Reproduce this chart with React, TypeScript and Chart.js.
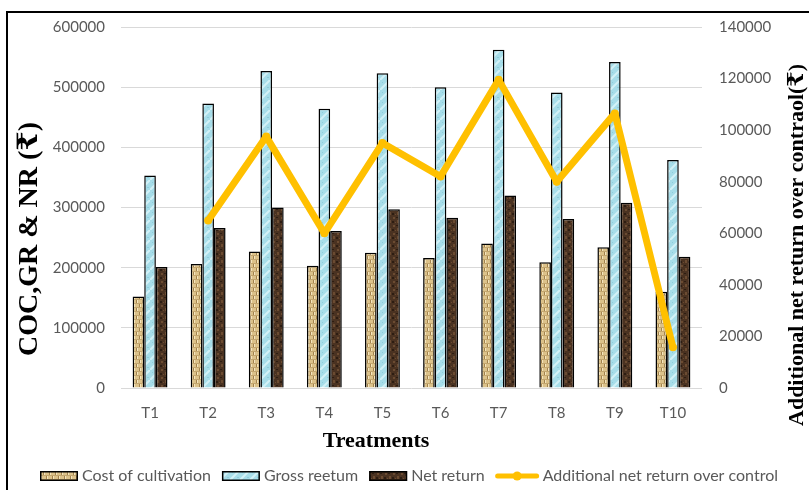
import React, { useEffect, useRef } from "react";
import { Chart, registerables } from "chart.js";

Chart.register(...registerables);

const treatments = ["T1", "T2", "T3", "T4", "T5", "T6", "T7", "T8", "T9", "T10"];
const costOfCultivation = [152000, 206000, 227000, 203000, 225000, 216000, 240000, 209000, 234000, 160000];
const grossReturn = [353000, 473000, 527000, 464000, 523000, 500000, 562000, 491000, 542000, 379000];
const netReturn = [201000, 266000, 300000, 261000, 297000, 283000, 320000, 281000, 308000, 218000];
const additionalNetReturn = [null, 65000, 97500, 60000, 95000, 82000, 119500, 80000, 106500, 15800];

const seriesLabels = ["Cost of cultivation", "Gross reetum", "Net return", "Additional net return over control"];
const leftTitle = "COC,GR & NR (₹)";
const rightTitle = "Additional net return over contraol(₹)";
const xTitle = "Treatments";

const TICK_FONT = "Lato, 'Liberation Sans', sans-serif";
const TITLE_FONT = "'Liberation Serif', 'DejaVu Serif', serif";
const GREY = "#595959";
const LINE_COLOR = "#FFC000";

function makeTile(kind: string): HTMLCanvasElement {
  const c = document.createElement("canvas");
  const g = c.getContext("2d")!;
  if (kind === "coc") {
    c.width = 6; c.height = 8;
    g.fillStyle = "#DCC28A"; g.fillRect(0, 0, 6, 8);
    g.fillStyle = "#A3834E"; g.fillRect(1, 0, 1, 3); g.fillRect(4, 4, 1, 3);
    g.fillStyle = "#F4E5BD"; g.fillRect(2, 0, 1, 3); g.fillRect(5, 4, 1, 3);
    g.fillStyle = "#C3A66E"; g.fillRect(0, 3, 6, 1); g.fillRect(0, 7, 6, 1);
  } else if (kind === "gr") {
    c.width = 10; c.height = 10;
    g.fillStyle = "#A7DDE9"; g.fillRect(0, 0, 10, 10);
    g.strokeStyle = "#D3F1F6"; g.lineWidth = 2;
    g.beginPath(); g.moveTo(0, 10); g.lineTo(10, 0); g.stroke();
    g.fillStyle = "#8FCCDA"; g.fillRect(2, 2, 1, 1); g.fillRect(7, 7, 2, 1);
  } else {
    c.width = 8; c.height = 8;
    g.fillStyle = "#4A3221"; g.fillRect(0, 0, 8, 8);
    g.fillStyle = "#6B4B31"; g.fillRect(1, 1, 2, 2); g.fillRect(5, 4, 2, 3); g.fillRect(3, 6, 1, 1);
    g.fillStyle = "#2D1D12"; g.fillRect(4, 1, 2, 1); g.fillRect(0, 5, 2, 2);
  }
  return c;
}

export default function App() {
  const ref = useRef<HTMLCanvasElement | null>(null);

  useEffect(() => {
    const canvas = ref.current!;
    const ctx0 = canvas.getContext("2d")!;
    const pats = {
      coc: ctx0.createPattern(makeTile("coc"), "repeat")!,
      gr: ctx0.createPattern(makeTile("gr"), "repeat")!,
      nr: ctx0.createPattern(makeTile("nr"), "repeat")!,
    };

    const decor = {
      id: "decor",
      beforeDraw(chart: any) {
        const ctx = chart.ctx;
        ctx.save();
        ctx.strokeStyle = "#000";
        ctx.lineWidth = 2;
        ctx.beginPath();
        ctx.moveTo(7, 490);
        ctx.lineTo(7, 12);
        ctx.lineTo(809, 12);
        ctx.stroke();
        ctx.restore();
      },
      afterDraw(chart: any) {
        const ctx = chart.ctx;
        ctx.save();
        ctx.fillStyle = "#000";
        ctx.textAlign = "center";
        ctx.textBaseline = "middle";
        // left title
        ctx.font = `bold 28px ${TITLE_FONT}`;
        ctx.save();
        ctx.translate(30, 239);
        ctx.rotate(-Math.PI / 2);
        ctx.fillText(leftTitle, 0, 0);
        ctx.restore();
        // right title
        ctx.font = `bold 22px ${TITLE_FONT}`;
        ctx.save();
        ctx.translate(797, 245);
        ctx.rotate(-Math.PI / 2);
        ctx.fillText(rightTitle, 0, 0);
        ctx.restore();
        // x title
        ctx.font = `bold 22px ${TITLE_FONT}`;
        ctx.fillText(xTitle, 376, 441);

        // legend
        ctx.font = `16px ${TICK_FONT}`;
        const sw = [38, 38, 38, 43];
        const gapIn = 4, gapOut = 11;
        const widths = seriesLabels.map((t) => ctx.measureText(t).width);
        let total = 0;
        widths.forEach((w, i) => { total += sw[i] + gapIn + w + (i < 3 ? gapOut : 0); });
        let x = Math.round(409 - total / 2);
        const y = 476;
        const fills = [pats.coc, pats.gr, pats.nr];
        for (let i = 0; i < 4; i++) {
          if (i < 3) {
            ctx.fillStyle = fills[i];
            ctx.fillRect(x, y - 5, sw[i], 10);
            ctx.strokeStyle = "#000";
            ctx.lineWidth = 1.5;
            ctx.strokeRect(x + 0.75, y - 5 + 0.75, sw[i] - 1.5, 10 - 1.5);
          } else {
            ctx.strokeStyle = LINE_COLOR;
            ctx.lineWidth = 5;
            ctx.lineCap = "round";
            ctx.beginPath();
            ctx.moveTo(x + 2, y);
            ctx.lineTo(x + sw[i] - 2, y);
            ctx.stroke();
            ctx.fillStyle = LINE_COLOR;
            ctx.beginPath();
            ctx.arc(x + sw[i] / 2, y, 4.5, 0, Math.PI * 2);
            ctx.fill();
          }
          x += sw[i] + gapIn;
          ctx.fillStyle = GREY;
          ctx.textAlign = "left";
          ctx.fillText(seriesLabels[i], x, y);
          x += widths[i] + gapOut;
        }
        ctx.restore();
      },
    };

    const chart = new Chart(canvas, {
      type: "bar",
      data: {
        labels: treatments,
        datasets: [
          {
            type: "line",
            label: seriesLabels[3],
            data: additionalNetReturn as any,
            yAxisID: "y1",
            borderColor: LINE_COLOR,
            backgroundColor: LINE_COLOR,
            borderWidth: 7,
            borderJoinStyle: "round",
            borderCapStyle: "round",
            pointRadius: 4,
            pointBorderWidth: 0,
            pointBackgroundColor: LINE_COLOR,
            spanGaps: false,
            tension: 0,
            order: 0,
          } as any,
          {
            label: seriesLabels[0],
            data: costOfCultivation,
            yAxisID: "y",
            backgroundColor: pats.coc,
            borderColor: "#000",
            borderWidth: 1.5,
            order: 1,
          },
          {
            label: seriesLabels[1],
            data: grossReturn,
            yAxisID: "y",
            backgroundColor: pats.gr,
            borderColor: "#000",
            borderWidth: 1.5,
            order: 1,
          },
          {
            label: seriesLabels[2],
            data: netReturn,
            yAxisID: "y",
            backgroundColor: pats.nr,
            borderColor: "#000",
            borderWidth: 1.5,
            order: 1,
          },
        ],
      },
      options: {
        animation: false,
        responsive: false,
        maintainAspectRatio: false,
        layout: { padding: { top: 27, left: 0, right: 0, bottom: 0 } },
        datasets: { bar: { categoryPercentage: 0.6, barPercentage: 1.0 } },
        plugins: { legend: { display: false }, tooltip: { enabled: false } },
        scales: {
          x: {
            grid: { display: false },
            border: { display: false },
            ticks: { color: GREY, font: { family: TICK_FONT, size: 15 }, padding: 8 },
            afterFit: (s: any) => { s.height = 102; },
          },
          y: {
            position: "left",
            min: 0,
            max: 600000,
            grid: { color: "#D9D9D9", lineWidth: 1, drawTicks: false },
            border: { display: false },
            ticks: {
              stepSize: 100000,
              color: GREY,
              font: { family: TICK_FONT, size: 15 },
              padding: 16,
              callback: (v: any) => String(v),
            },
            afterFit: (s: any) => { s.width = 121; },
          },
          y1: {
            position: "right",
            min: 0,
            max: 140000,
            grid: { display: false, drawTicks: false },
            border: { display: false },
            ticks: {
              stepSize: 20000,
              color: GREY,
              font: { family: TICK_FONT, size: 15 },
              padding: 17,
              callback: (v: any) => String(v),
            },
            afterFit: (s: any) => { s.width = 107; },
          },
        },
      },
      plugins: [decor],
    });
    return () => chart.destroy();
  }, []);

  return (
    <div style={{ position: "fixed", left: 0, top: 0, width: 809, height: 490, background: "#fff" }}>
      <canvas ref={ref} width={809} height={490} style={{ display: "block", width: 809, height: 490 }} />
    </div>
  );
}
